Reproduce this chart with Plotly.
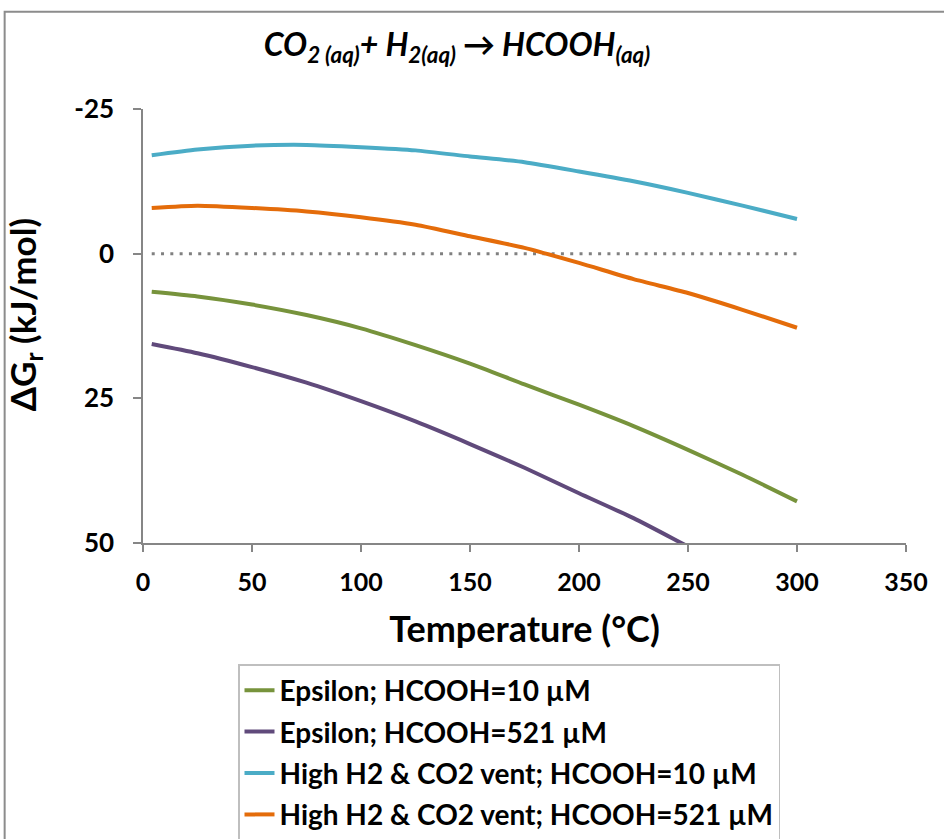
import plotly.graph_objects as go

temperature = [4, 25, 50, 75, 100, 125, 150, 175, 200, 225, 250, 275, 300]
eps_10 = [6.6, 7.4, 8.8, 10.6, 12.9, 15.8, 19.0, 22.6, 26.1, 29.8, 33.9, 38.2, 42.8]
eps_521 = [15.6, 17.2, 19.6, 22.3, 25.5, 29.0, 32.9, 37.0, 41.4, 45.7, 50.6, 55.5, 60.5]
vent_10 = [-17.0, -18.0, -18.66, -18.8, -18.4, -17.85, -16.8, -15.8, -14.2, -12.5, -10.5, -8.3, -6.0]
vent_521 = [-7.9, -8.3, -7.9, -7.3, -6.3, -5.0, -3.0, -1.0, 1.6, 4.4, 6.8, 9.7, 12.8]
zero_line = [0] * len(temperature)

series_names = [
    "Epsilon; HCOOH=10 µM",
    "Epsilon; HCOOH=521 µM",
    "High H2 & CO2 vent; HCOOH=10 µM",
    "High H2 & CO2 vent; HCOOH=521 µM",
]
series_values = [eps_10, eps_521, vent_10, vent_521]
series_colors = ["#77933C", "#604A7B", "#4BACC6", "#E46C0A"]

x_ticks = [0, 50, 100, 150, 200, 250, 300, 350]
y_ticks = [-25, 0, 25, 50]

FONT = "Lato"

fig = go.Figure()

fig.add_trace(go.Scatter(
    x=temperature, y=zero_line, mode="lines",
    line=dict(color="#808080", width=3, dash="3px,6.3px"),
    showlegend=False, hoverinfo="skip",
))

for i, (name, vals, col) in enumerate(zip(series_names, series_values, series_colors)):
    fig.add_trace(go.Scatter(
        x=temperature, y=vals, mode="lines", name=name,
        line=dict(color=col, width=4, shape="spline", smoothing=0.6),
        legendgroup=f"g{i}",
    ))

axis_col = "#868686"
fig.update_layout(
    width=944, height=839,
    paper_bgcolor="white", plot_bgcolor="white",
    margin=dict(l=143, r=38, t=109, b=296, autoexpand=False),
    font=dict(family=FONT, color="black"),
    title=dict(
        text="CO<sub>2 (aq)</sub>+ H<sub>2(aq)</sub> → HCOOH<sub>(aq)</sub>",
        x=457 / 944, xanchor="center", y=1 - 45 / 839, yanchor="middle",
        font=dict(family=FONT, size=32, weight="bold", style="italic", color="black"),
    ),
    xaxis=dict(
        range=[0, 350], tickvals=x_ticks, ticktext=[str(v) for v in x_ticks],
        showgrid=False, zeroline=False, showline=True, linecolor=axis_col, linewidth=1.5,
        ticks="outside", ticklen=7, tickcolor=axis_col, tickwidth=1.5,
        tickfont=dict(family=FONT, size=25, weight="bold", color="black"),
        ticklabelstandoff=9,
        title=dict(text="Temperature (°C)", standoff=22,
                   font=dict(family=FONT, size=36, weight="bold", color="black")),
    ),
    yaxis=dict(
        range=[50, -25], tickvals=y_ticks, ticktext=[str(v) for v in y_ticks],
        showgrid=False, zeroline=False, showline=True, linecolor=axis_col, linewidth=1.5,
        ticks="outside", ticklen=8, tickcolor=axis_col, tickwidth=1.5,
        tickfont=dict(family=FONT, size=26, weight="bold", color="black"),
        ticklabelstandoff=14,
    ),
    annotations=[dict(
        text="ΔG<sub>r</sub> (kJ/mol)", textangle=-90, showarrow=False,
        xref="paper", yref="paper", x=(25 - 143.3) / 762.7, y=(543.3 - 315) / 434,
        xanchor="center", yanchor="middle",
        font=dict(family=FONT, size=35, weight="bold", color="black"),
    )],
    legend=dict(
        xref="container", yref="container",
        x=238 / 944, y=1 - 664 / 839, xanchor="left", yanchor="top",
        bordercolor="#BFBFBF", borderwidth=1.5, bgcolor="white",
        font=dict(family=FONT, size=28, weight="bold", color="black"),
        tracegroupgap=2, itemwidth=30,
    ),
    shapes=[dict(
        type="rect", xref="paper", yref="paper",
        x0=(5 - 143.3) / 762.7, x1=1.1, y0=-0.8, y1=(543.3 - 12) / 434,
        line=dict(color="#8C8C8C", width=2), fillcolor="rgba(0,0,0,0)", layer="below",
    )],
)

fig.write_html("out.html", config={"displayModeBar": False},
               post_script="document.body.style.margin='0';document.body.style.overflow='hidden';")
